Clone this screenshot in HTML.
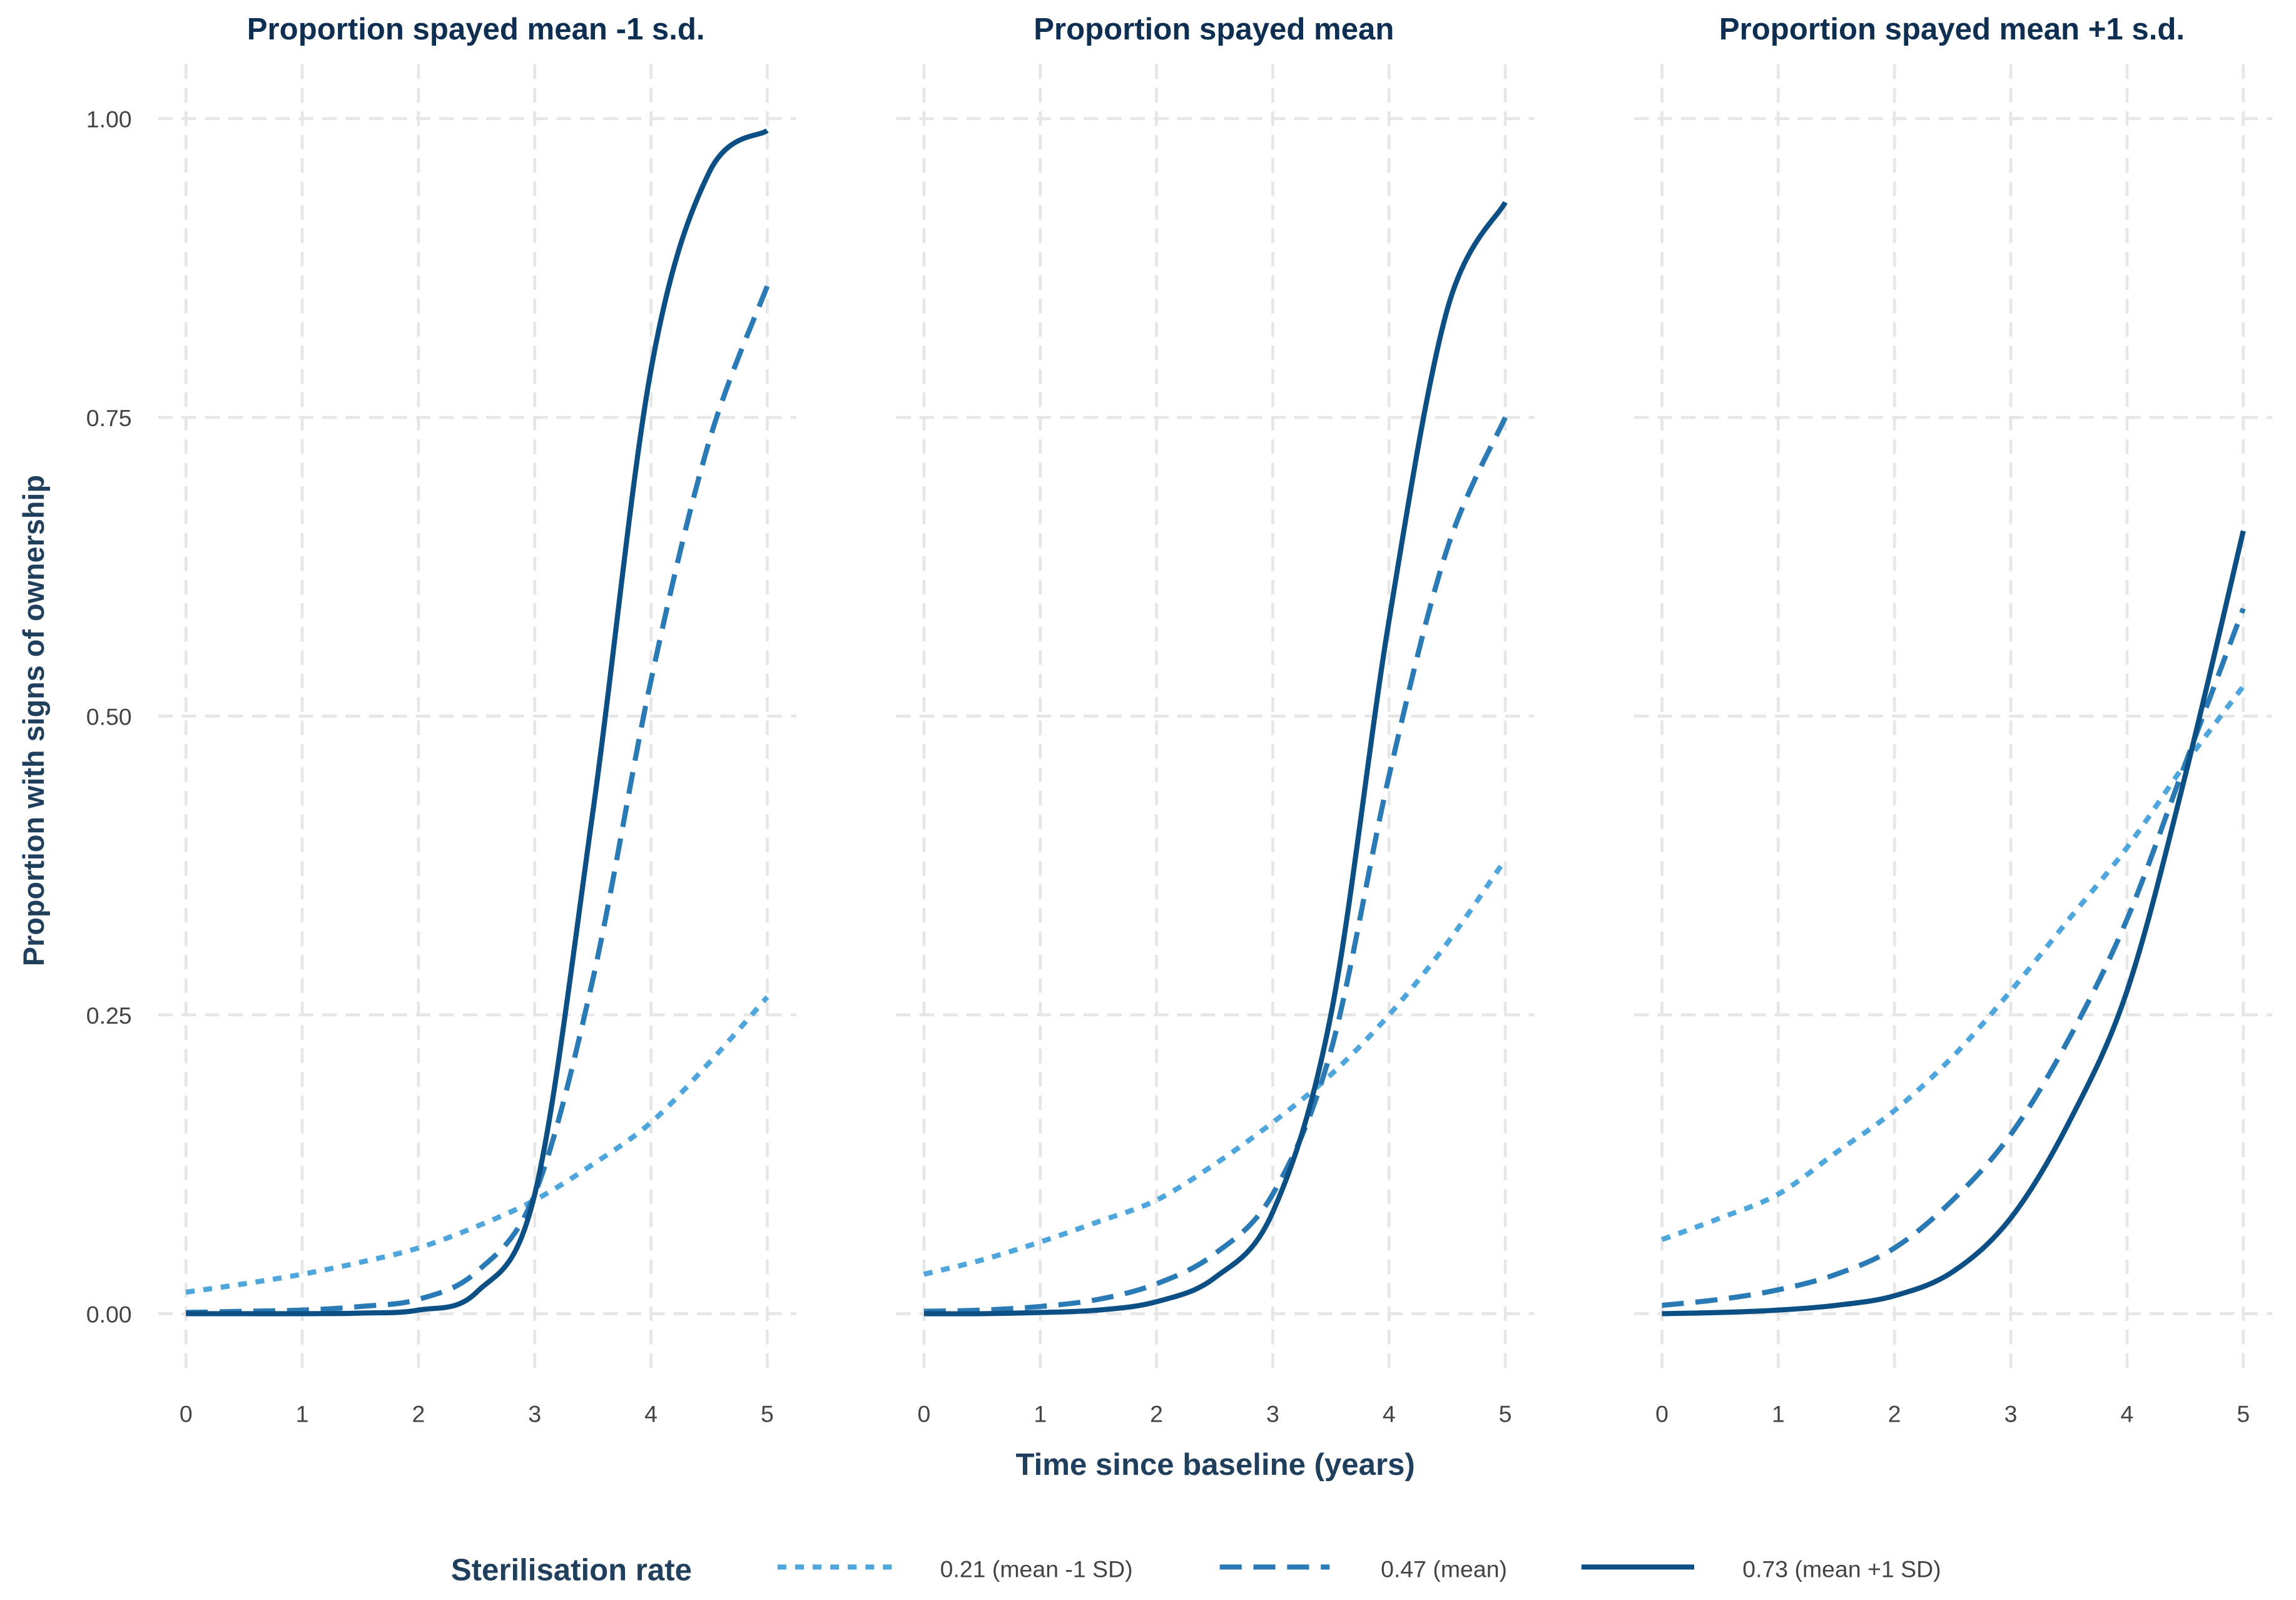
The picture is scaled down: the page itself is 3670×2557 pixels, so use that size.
<!DOCTYPE html>
<html><head><meta charset="utf-8">
<style>
html,body{margin:0;padding:0;background:#fff;}
svg{display:block;}
text{font-family:"Liberation Sans",sans-serif;}
</style></head>
<body>
<svg id="chart" width="3670" height="2557" viewBox="0 0 1568 1092.5" preserveAspectRatio="none" xmlns="http://www.w3.org/2000/svg">
<g id="panels"></g>
<text x="830" y="1007" text-anchor="middle" font-size="21" font-weight="bold" fill="#1f3f5c">Time since baseline (years)</text>
<text transform="translate(30,492) rotate(-90)" text-anchor="middle" font-size="20" font-weight="bold" fill="#1f3f5c">Proportion with signs of ownership</text>
<g>
<text x="308" y="1079" font-size="21" font-weight="bold" fill="#1f3f5c">Sterilisation rate</text>
<line x1="531" y1="1070" x2="610" y2="1070" stroke="#4ea6dc" stroke-width="3.5" stroke-dasharray="6 6"/>
<text x="642" y="1077" font-size="16" fill="#444">0.21 (mean -1 SD)</text>
<line x1="833" y1="1070" x2="908" y2="1070" stroke="#2a7ab5" stroke-width="3.5" stroke-dasharray="15 8"/>
<text x="943" y="1077" font-size="16" fill="#444">0.47 (mean)</text>
<line x1="1080" y1="1070" x2="1157" y2="1070" stroke="#0b4f85" stroke-width="3.5"/>
<text x="1190" y="1077" font-size="16" fill="#444">0.73 (mean +1 SD)</text>
</g>
</svg>
<script>
const times = [0,0.5,1,1.5,2,2.5,3,3.5,4,4.5,5];
const panelTitles = ["Proportion spayed mean -1 s.d.","Proportion spayed mean","Proportion spayed mean +1 s.d."];
const xTicks = [0,1,2,3,4,5];
const yTicks = [0,0.25,0.5,0.75,1];
const yTickLabels = ["0.00","0.25","0.50","0.75","1.00"];
const lowP1 = [0.018,0.025,0.033,0.043,0.055,0.073,0.095,0.125,0.16,0.21,0.265];
const midP1 = [0.001,0.002,0.003,0.006,0.012,0.035,0.1,0.28,0.53,0.73,0.86];
const highP1 = [0,0,0,0.0005,0.003,0.018,0.1,0.42,0.79,0.955,0.99];
const lowP2 = [0.033,0.045,0.06,0.077,0.095,0.125,0.16,0.2,0.25,0.31,0.38];
const midP2 = [0.002,0.003,0.006,0.012,0.025,0.05,0.1,0.22,0.45,0.64,0.75];
const highP2 = [0,0,0.001,0.003,0.01,0.03,0.085,0.25,0.58,0.84,0.93];
const lowP3 = [0.062,0.08,0.1,0.135,0.17,0.215,0.27,0.33,0.39,0.46,0.525];
const midP3 = [0.007,0.012,0.02,0.033,0.055,0.095,0.15,0.23,0.33,0.46,0.59];
const highP3 = [0,0.001,0.003,0.007,0.015,0.035,0.08,0.16,0.27,0.45,0.655];

const panelData = [[lowP1,midP1,highP1],[lowP2,midP2,highP2],[lowP3,midP3,highP3]];
const panelX0 = [127,631,1135];
const pxPerYear = 79.4;
const yScale = v => 897 - v*816;
const seriesStyle = [
 {name:'low',color:'#4ea6dc',dash:'6 6'},
 {name:'mid',color:'#2a7ab5',dash:'15 8'},
 {name:'high',color:'#0b4f85',dash:''}];
const NS='http://www.w3.org/2000/svg';
const root=document.getElementById('panels');
function mk(tag,attrs,parent){const e=document.createElementNS(NS,tag);for(const k in attrs)e.setAttribute(k,attrs[k]);parent.appendChild(e);return e;}
function pathFrom(pts){
 let d='M'+pts[0][0].toFixed(2)+','+pts[0][1].toFixed(2);
 for(let i=0;i<pts.length-1;i++){
  const p0=pts[Math.max(0,i-1)],p1=pts[i],p2=pts[i+1],p3=pts[Math.min(pts.length-1,i+2)];
  const c1=[p1[0]+(p2[0]-p0[0])/6,p1[1]+(p2[1]-p0[1])/6];
  const c2=[p2[0]-(p3[0]-p1[0])/6,p2[1]-(p3[1]-p1[1])/6];
  d+=' C'+c1[0].toFixed(2)+','+c1[1].toFixed(2)+' '+c2[0].toFixed(2)+','+c2[1].toFixed(2)+' '+p2[0].toFixed(2)+','+p2[1].toFixed(2);
 }
 return d;
}
panelData.forEach((series,pi)=>{
 const x0=panelX0[pi];
 const xS=t=>x0+t*pxPerYear;
 const g=mk('g',{},root);
 
 
 yTicks.forEach((v,i)=>{
  const l=mk('line',{x1:xS(-0.24),x2:xS(5.25),y1:yScale(v),y2:yScale(v),stroke:'#e6e6e6','stroke-width':2,'stroke-dasharray':'10 6'},g);
  
  
  if(pi===0){
   const t=mk('text',{x:90,y:yScale(v)+6,'text-anchor':'end','font-size':16,fill:'#444'},g);
   
   
   t.textContent=yTickLabels[i];
  }
 });
 xTicks.forEach(v=>{
  const l=mk('line',{x1:xS(v),x2:xS(v),y1:44,y2:938,stroke:'#e6e6e6','stroke-width':2,'stroke-dasharray':'10 6'},g);
  
  
  const t=mk('text',{x:xS(v),y:971,'text-anchor':'middle','font-size':16,fill:'#444'},g);
  
  
  t.textContent=v;
 });
 const title=mk('text',{x:x0+198,y:27,'text-anchor':'middle','font-size':21,'font-weight':'bold',fill:'#0f2f52'},g);
 
 
 title.textContent=panelTitles[pi];
 series.forEach((vals,si)=>{
  const st=seriesStyle[si];
  const pts=times.map((t,i)=>[xS(t),yScale(vals[i])]);
  const p=mk('path',{d:pathFrom(pts),fill:'none',stroke:st.color,'stroke-width':3.5,'stroke-linecap':'butt'},g);
  if(st.dash)p.setAttribute('stroke-dasharray',st.dash);
  
  
 });
});
</script>
</body></html>
